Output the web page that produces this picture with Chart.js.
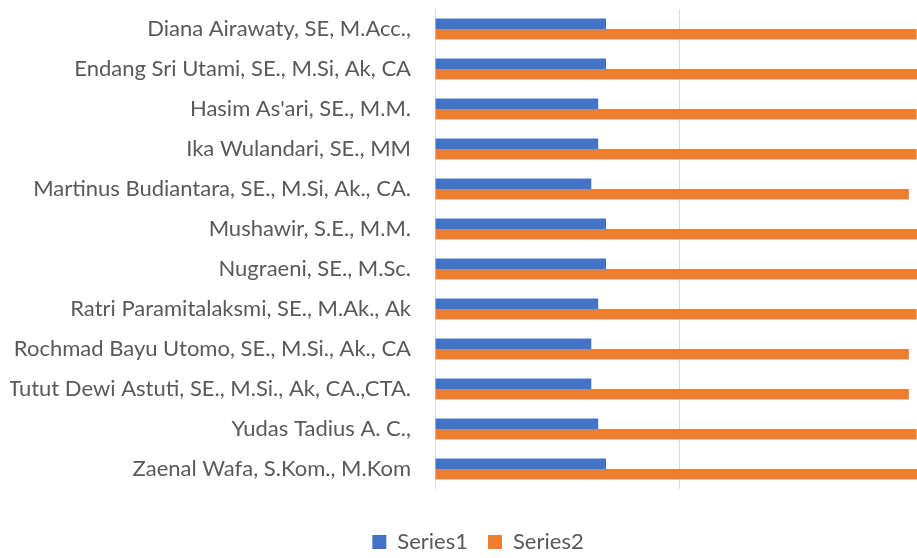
<!DOCTYPE html>
<html>
<head>
<meta charset="utf-8">
<script src="https://cdn.jsdelivr.net/npm/chart.js@4.4.1/dist/chart.umd.min.js"></script>
<style>
  html, body { margin: 0; padding: 0; background: #fff; overflow: hidden; }
  #wrap { position: relative; width: 946px; height: 563px; }
</style>
</head>
<body>
<div id="wrap"><canvas id="chart"></canvas></div>
<script>
// data
const names = [
    'Diana Airawaty, SE, M.Acc.,',
    'Endang Sri Utami, SE., M.Si, Ak, CA',
    "Hasim As'ari, SE., M.M.",
    'Ika Wulandari, SE., MM',
    'Martinus Budiantara, SE., M.Si, Ak., CA.',
    'Mushawir, S.E., M.M.',
    'Nugraeni, SE., M.Sc.',
    'Ratri Paramitalaksmi, SE., M.Ak., Ak',
    'Rochmad Bayu Utomo, SE., M.Si., Ak., CA',
    'Tutut Dewi Astuti, SE., M.Si., Ak, CA.,CTA.',
    'Yudas Tadius A. C.,',
    'Zaenal Wafa, S.Kom., M.Kom'
];
const series1 = [35, 35, 33.4, 33.4, 32, 35, 35, 33.4, 32, 32, 33.4, 35];
const series2 = [98.6, 100, 98.6, 98.6, 97, 100, 100, 98.6, 97, 97, 98.6, 100];

const fontFamily = "Lato, 'Open Sans', sans-serif";

let ctx = document.getElementById('chart').getContext('2d');

window.bar = new Chart(ctx, {
    type: 'bar',
    data: {
        labels: names,
        datasets: [{
            label: 'Series1',
            data: series1,
            backgroundColor: '#4472C4',
            borderWidth: 0
        }, {
            label: 'Series2',
            data: series2,
            backgroundColor: '#ED7D31',
            borderWidth: 0
        }]
    },
    options: {
        indexAxis: 'y',
        responsive: true,
        maintainAspectRatio: false,
        animation: false,
        layout: { padding: { top: 9, left: 10, right: 0, bottom: 0 } },
        datasets: { bar: { categoryPercentage: 0.525, barPercentage: 1 } },
        scales: {
            x: {
                min: 0,
                max: 104.6,
                ticks: { display: false, stepSize: 50 },
                afterBuildTicks: function (scale) {
                    scale.ticks = scale.ticks.filter(t => t.value % 50 === 0);
                },
                grid: { color: '#d9d9d9', lineWidth: 1, drawTicks: true, tickLength: 22, tickColor: 'rgba(0,0,0,0)' },
                border: { display: false }
            },
            y: {
                grid: { display: true, drawOnChartArea: false, drawTicks: true, tickLength: 24, tickColor: 'rgba(0,0,0,0)', color: 'rgba(0,0,0,0)' },
                border: { display: false },
                ticks: {
                    padding: 0,
                    color: '#595959',
                    font: { family: fontFamily, size: 22 }
                },
                afterFit: function (scale) {
                    scale.width = 425;
                    scale.paddingTop = 0;
                    scale.paddingBottom = 0;
                }
            }
        },
        plugins: {
            tooltip: { enabled: false },
            legend: {
                position: 'bottom',
                labels: {
                    boxWidth: 14,
                    boxHeight: 14,
                    padding: 20,
                    color: '#595959',
                    font: { family: fontFamily, size: 22 }
                }
            }
        }
    }
});
</script>
</body>
</html>
